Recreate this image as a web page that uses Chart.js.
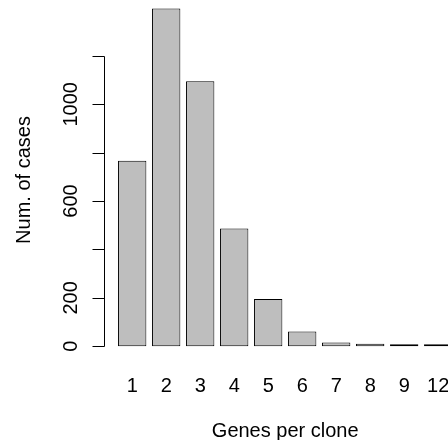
<!DOCTYPE html>
<html lang="en">
<head>
<meta charset="UTF-8">
<title>Genes per clone</title>
<script src="https://cdn.jsdelivr.net/npm/chart.js@4"></script>
<style>
    body {
        margin: 0;
        padding: 0;
        background: #fff;
        overflow: hidden;
    }
    .frame {
        width: 448px;
        height: 440px;
        overflow: hidden;
    }
    canvas {
        display: block;
    }
</style>
</head>
<body>
<div class="frame"><canvas id="cloneChart" width="470" height="445"></canvas></div>
<script>
const genesPerClone = ['1', '2', '3', '4', '5', '6', '7', '8', '9', '12'];
const numCases = [767, 1396, 1095, 487, 195, 61, 15, 10, 4, 1];
const yTicks = [0, 200, 400, 600, 800, 1000, 1200];
const yTickLabels = ['0', '200', '', '600', '', '1000', ''];
const xTitle = 'Genes per clone';
const yTitle = 'Num. of cases';

const fontFamily = "'Liberation Sans', Arial, Helvetica, sans-serif";
const fontSize = 20;

// left axis drawn by hand: line only spans first..last tick, set off left of the bars,
// labels and title turned to read upward
const axisLine = {
    id: 'axisLine',
    afterDraw(chart) {
        const ctx = chart.ctx;
        const x = chart.scales.x;
        const y = chart.scales.y;
        const cw = x.width / genesPerClone.length;
        const ax = Math.round(x.left - 0.31 * cw) - 0.5;
        ctx.save();
        ctx.strokeStyle = '#000';
        ctx.lineWidth = 1;
        ctx.beginPath();
        ctx.moveTo(ax, Math.round(y.getPixelForValue(yTicks[0])) + 0.5);
        ctx.lineTo(ax, Math.round(y.getPixelForValue(yTicks[yTicks.length - 1])) + 0.5);
        yTicks.forEach(v => {
            const py = Math.round(y.getPixelForValue(v)) + 0.5;
            ctx.moveTo(ax, py);
            ctx.lineTo(ax - 12, py);
        });
        ctx.stroke();

        ctx.fillStyle = '#000';
        ctx.font = fontSize + 'px ' + fontFamily;
        ctx.textAlign = 'center';
        ctx.textBaseline = 'alphabetic';
        yTicks.forEach((v, i) => {
            if (!yTickLabels[i]) return;
            ctx.save();
            ctx.translate(ax - 28, y.getPixelForValue(v));
            ctx.rotate(-Math.PI / 2);
            ctx.fillText(yTickLabels[i], 0, 0);
            ctx.restore();
        });

        // axis titles
        ctx.save();
        ctx.translate(30, (y.top + y.bottom) / 2);
        ctx.rotate(-Math.PI / 2);
        ctx.fillText(yTitle, 0, 0);
        ctx.restore();
        ctx.fillText(xTitle, (x.left + x.right) / 2, 437);
        ctx.restore();
    }
};

new Chart(document.getElementById('cloneChart'), {
    type: 'bar',
    data: {
        labels: genesPerClone,
        datasets: [{
            data: numCases,
            backgroundColor: '#bebebe',
            borderColor: '#000',
            borderWidth: 1,
            borderSkipped: false,
            barPercentage: 1 / 1.2,
            categoryPercentage: 1,
            minBarLength: 2
        }]
    },
    options: {
        responsive: false,
        animation: false,
        layout: { autoPadding: false, padding: { left: 0, right: 14.8, top: 0, bottom: 0 } },
        plugins: { legend: { display: false }, tooltip: { enabled: false } },
        scales: {
            x: {
                grid: { display: false, drawTicks: false },
                border: { display: false },
                ticks: {
                    color: '#000',
                    font: { family: fontFamily, size: fontSize },
                    padding: 14, minRotation: 0, maxRotation: 0, autoSkip: false
                },
                afterFit(s) { s.height = 85; }
            },
            y: {
                min: -57,
                max: 1431,
                grid: { display: false, drawTicks: false },
                border: { display: false },
                afterBuildTicks(s) { s.ticks = yTicks.map(v => ({ value: v })); },
                ticks: { display: false },
                afterFit(s) { s.width = 115.2; }
            }
        }
    },
    plugins: [axisLine]
});
</script>
</body>
</html>
